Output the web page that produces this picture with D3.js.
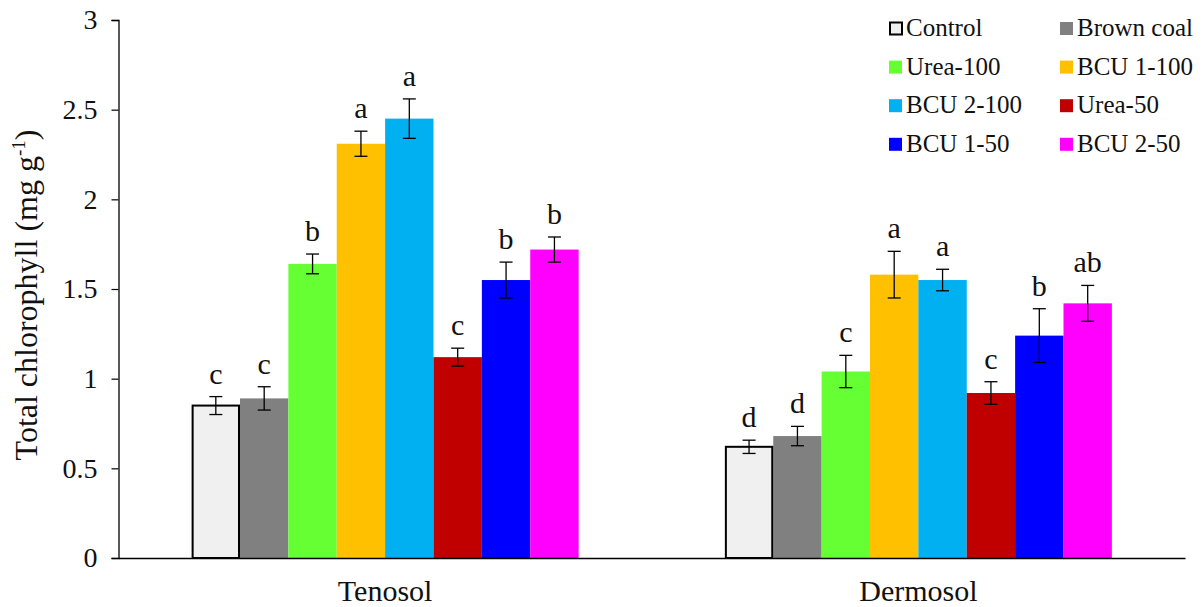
<!DOCTYPE html>
<html>
<head>
<meta charset="utf-8">
<script src="https://cdn.jsdelivr.net/npm/d3@7"></script>
<style>
  html, body { margin: 0; padding: 0; background: #fff; }
  svg { display: block; font-family: "Liberation Serif", "Times New Roman", serif; }
</style>
</head>
<body>
<svg id="chart" width="1202" height="607"></svg>
<script>
// Soil types (x groups) and treatments (bars within each group)
const soils = ["Tenosol", "Dermosol"];
const treatments = ["Control", "Brown coal", "Urea-100", "BCU 1-100", "BCU 2-100", "Urea-50", "BCU 1-50", "BCU 2-50"];
const colors = ["#f0f0f0", "#808080", "#66ff33", "#ffc000", "#00b0f0", "#c00000", "#0000ff", "#ff00ff"];

// Total chlorophyll means (mg g-1), errors and significance letters per soil
const tenosolMeans   = [0.85, 0.89, 1.64, 2.31, 2.45, 1.12, 1.55, 1.72];
const tenosolErrors  = [0.05, 0.065, 0.055, 0.07, 0.11, 0.05, 0.10, 0.07];
const tenosolLetters = ["c", "c", "b", "a", "a", "c", "b", "b"];
const dermosolMeans   = [0.62, 0.68, 1.04, 1.58, 1.55, 0.92, 1.24, 1.42];
const dermosolErrors  = [0.037, 0.054, 0.09, 0.13, 0.06, 0.063, 0.15, 0.10];
const dermosolLetters = ["d", "d", "c", "a", "a", "c", "b", "ab"];

const yTicks = [0, 0.5, 1, 1.5, 2, 2.5, 3];

const means = [tenosolMeans, dermosolMeans];
const errors = [tenosolErrors, dermosolErrors];
const letters = [tenosolLetters, dermosolLetters];

const FONT = "Liberation Serif, Times New Roman, serif";
const svg = d3.select("#chart");
const plotLeft = 118.5, plotRight = 1185, plotTop = 20, plotBottom = 558;

const x0 = d3.scaleBand().domain(soils).range([plotLeft, plotRight]).paddingInner(0).paddingOuter(0);
const x1 = d3.scaleBand().domain(treatments).range([0, 387]);
const groupOffset = (x0.bandwidth() - 387) / 2;
const y = d3.scaleLinear().domain([0, 3]).range([plotBottom, plotTop]);

// Bars, error bars and letters
soils.forEach((soil, si) => {
  const g = svg.append("g").attr("transform", `translate(${x0(soil) + groupOffset},0)`);
  const rows = treatments.map((t, i) => ({ t, i, v: means[si][i], e: errors[si][i], l: letters[si][i] }));

  g.selectAll("rect.bar").data(rows).join("rect")
    .attr("class", "bar")
    .attr("x", d => x1(d.t))
    .attr("y", d => y(d.v))
    .attr("width", x1.bandwidth())
    .attr("height", d => y(0) - y(d.v))
    .attr("fill", d => colors[d.i]);

  // Control bar is outlined in black
  const c = rows[0];
  g.append("rect")
    .attr("x", x1(c.t) + 1).attr("y", y(c.v))
    .attr("width", x1.bandwidth() - 2).attr("height", y(0) - y(c.v))
    .attr("fill", "none").attr("stroke", "#000").attr("stroke-width", 2);

  const eb = g.selectAll("g.err").data(rows).join("g").attr("class", "err")
    .attr("transform", d => `translate(${x1(d.t) + x1.bandwidth() / 2},0)`);
  eb.append("line").attr("y1", d => y(d.v + d.e)).attr("y2", d => y(d.v - d.e))
    .attr("stroke", "#000").attr("stroke-width", 1.3);
  eb.append("line").attr("x1", -6.5).attr("x2", 6.5).attr("y1", d => y(d.v + d.e)).attr("y2", d => y(d.v + d.e))
    .attr("stroke", "#000").attr("stroke-width", 1.3);
  eb.append("line").attr("x1", -6.5).attr("x2", 6.5).attr("y1", d => y(d.v - d.e)).attr("y2", d => y(d.v - d.e))
    .attr("stroke", "#000").attr("stroke-width", 1.3);
  eb.append("text").attr("y", d => y(d.v + d.e) - 13)
    .attr("text-anchor", "middle").attr("font-size", 30).attr("fill", "#111")
    .text(d => d.l);
});

// Y axis
const yAxis = svg.append("g").attr("transform", `translate(${plotLeft},0)`)
  .call(d3.axisLeft(y).tickValues(yTicks).tickFormat(d => String(d)).tickSize(7).tickPadding(14));
yAxis.select(".domain").attr("stroke", "#000").attr("stroke-width", 1.3);
yAxis.selectAll(".tick line").attr("stroke", "#000").attr("stroke-width", 1.2);
yAxis.selectAll(".tick text").attr("font-size", 28).attr("font-family", FONT).attr("fill", "#111");

// X axis
const xAxis = svg.append("g").attr("transform", `translate(0,${plotBottom})`)
  .call(d3.axisBottom(x0).tickSize(0).tickPadding(22));
xAxis.select(".domain").attr("stroke", "#000").attr("stroke-width", 1.3);
xAxis.selectAll(".tick text").attr("font-size", 30).attr("font-family", FONT).attr("fill", "#111");

// Y axis title
const title = svg.append("text")
  .attr("transform", `translate(37,295) rotate(-90)`)
  .attr("text-anchor", "middle").attr("font-size", 32).attr("fill", "#111");
title.append("tspan").text("Total chlorophyll (mg g");
title.append("tspan").attr("font-size", 19).attr("dy", -12).text("-1");
title.append("tspan").attr("dy", 12).text(")");

// Legend, two columns
const legend = svg.append("g");
treatments.forEach((t, i) => {
  const col = i % 2, row = Math.floor(i / 2);
  const lx = 889 + col * 171, ly = 28.5 + row * 38.6;
  if (i === 0) {
    legend.append("rect").attr("x", lx + 1).attr("y", ly - 6).attr("width", 12).attr("height", 12)
      .attr("fill", colors[i]).attr("stroke", "#000").attr("stroke-width", 2);
  } else {
    legend.append("rect").attr("x", lx).attr("y", ly - 6.5).attr("width", 13).attr("height", 13)
      .attr("fill", colors[i]);
  }
  legend.append("text").attr("x", lx + 17).attr("y", ly + 7.5)
    .attr("font-size", 25).attr("fill", "#111").text(t);
});
</script>
</body>
</html>
